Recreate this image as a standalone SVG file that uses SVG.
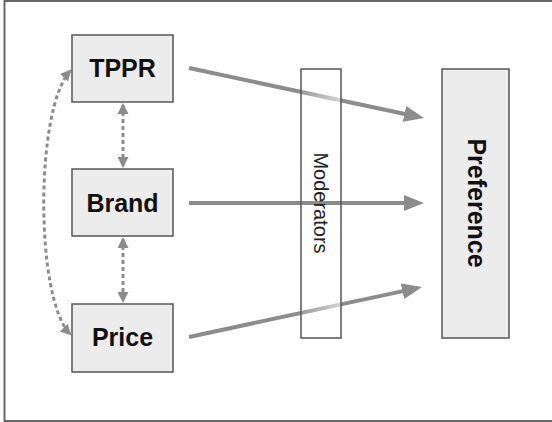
<svg xmlns="http://www.w3.org/2000/svg" width="552" height="422" viewBox="0 0 552 422">
  <style>
    .box { fill: #ececec; stroke: #555; stroke-width: 1.5; }
    .mod { fill: none; stroke: #555; stroke-width: 1.5; }
    .lbl { font-family: "Liberation Sans", Arial, sans-serif; font-weight: bold; font-size: 25px; fill: #111; text-anchor: middle; }
    .vlbl { font-family: "Liberation Sans", Arial, sans-serif; font-size: 20px; fill: #222; text-anchor: middle; }
    .main { fill: none; stroke-width: 4; }
    .dash { fill: none; stroke: #8c8c8c; stroke-width: 3; stroke-dasharray: 4 3; }
  </style>
  <defs>
    <marker id="bigHead" viewBox="0 0 20 16" refX="4" refY="8" markerWidth="20" markerHeight="16" markerUnits="userSpaceOnUse" orient="auto">
      <path d="M0,0 L20,8 L0,16 Z" fill="#8c8c8c"/>
    </marker>
    <marker id="smallHead" viewBox="0 0 11 11" refX="9" refY="5.5" markerWidth="11" markerHeight="11" markerUnits="userSpaceOnUse" orient="auto-start-reverse">
      <path d="M0,0 L11,5.5 L0,11 Z" fill="#8c8c8c"/>
    </marker>
    <!-- grey stroke that fades out while passing through the moderators band -->
    <linearGradient id="lineFade" gradientUnits="userSpaceOnUse" x1="189" y1="0" x2="424" y2="0">
      <stop offset="0" stop-color="#8c8c8c"/>
      <stop offset="0.472" stop-color="#8c8c8c"/>
      <stop offset="0.472" stop-color="#9a9a9a"/>
      <stop offset="0.645" stop-color="#d2d2d2"/>
      <stop offset="0.645" stop-color="#8c8c8c"/>
      <stop offset="1" stop-color="#8c8c8c"/>
    </linearGradient>
  </defs>

  <!-- frame -->
  <rect x="4.5" y="1" width="560" height="420" fill="#fff" stroke="#666" stroke-width="2"/>

  <!-- connectors -->
  <g id="connectors">
    <line class="main" x1="189" y1="68" x2="408.4" y2="114.7" stroke="url(#lineFade)" marker-end="url(#bigHead)"/>
    <line class="main" x1="189" y1="203" x2="408" y2="203" stroke="#8c8c8c" marker-end="url(#bigHead)"/>
    <line class="main" x1="189" y1="337" x2="406.4" y2="290.4" stroke="url(#lineFade)" marker-end="url(#bigHead)"/>
    <line class="dash" x1="123" y1="105" x2="123" y2="166" marker-start="url(#smallHead)" marker-end="url(#smallHead)"/>
    <line class="dash" x1="123" y1="239" x2="123" y2="301" marker-start="url(#smallHead)" marker-end="url(#smallHead)"/>
    <path class="dash" d="M70,71 C35,110 35,298 70,334" marker-start="url(#smallHead)" marker-end="url(#smallHead)"/>
  </g>

  <g id="moderators">
    <rect class="mod" x="301" y="69" width="40" height="269"/>
    <text class="vlbl" transform="translate(314,203) rotate(90)">Moderators</text>
  </g>

  <g id="preference">
    <rect class="box" x="442" y="69" width="67" height="269"/>
    <text class="lbl" transform="translate(468,203) rotate(90)">Preference</text>
  </g>

  <g id="tppr">
    <rect class="box" x="72" y="35" width="101" height="67"/>
    <text class="lbl" x="122.5" y="77">TPPR</text>
  </g>

  <g id="brand">
    <rect class="box" x="72" y="169" width="101" height="67"/>
    <text class="lbl" x="122.5" y="212">Brand</text>
  </g>

  <g id="price">
    <rect class="box" x="72" y="304" width="101" height="68"/>
    <text class="lbl" x="122.5" y="346">Price</text>
  </g>
</svg>
